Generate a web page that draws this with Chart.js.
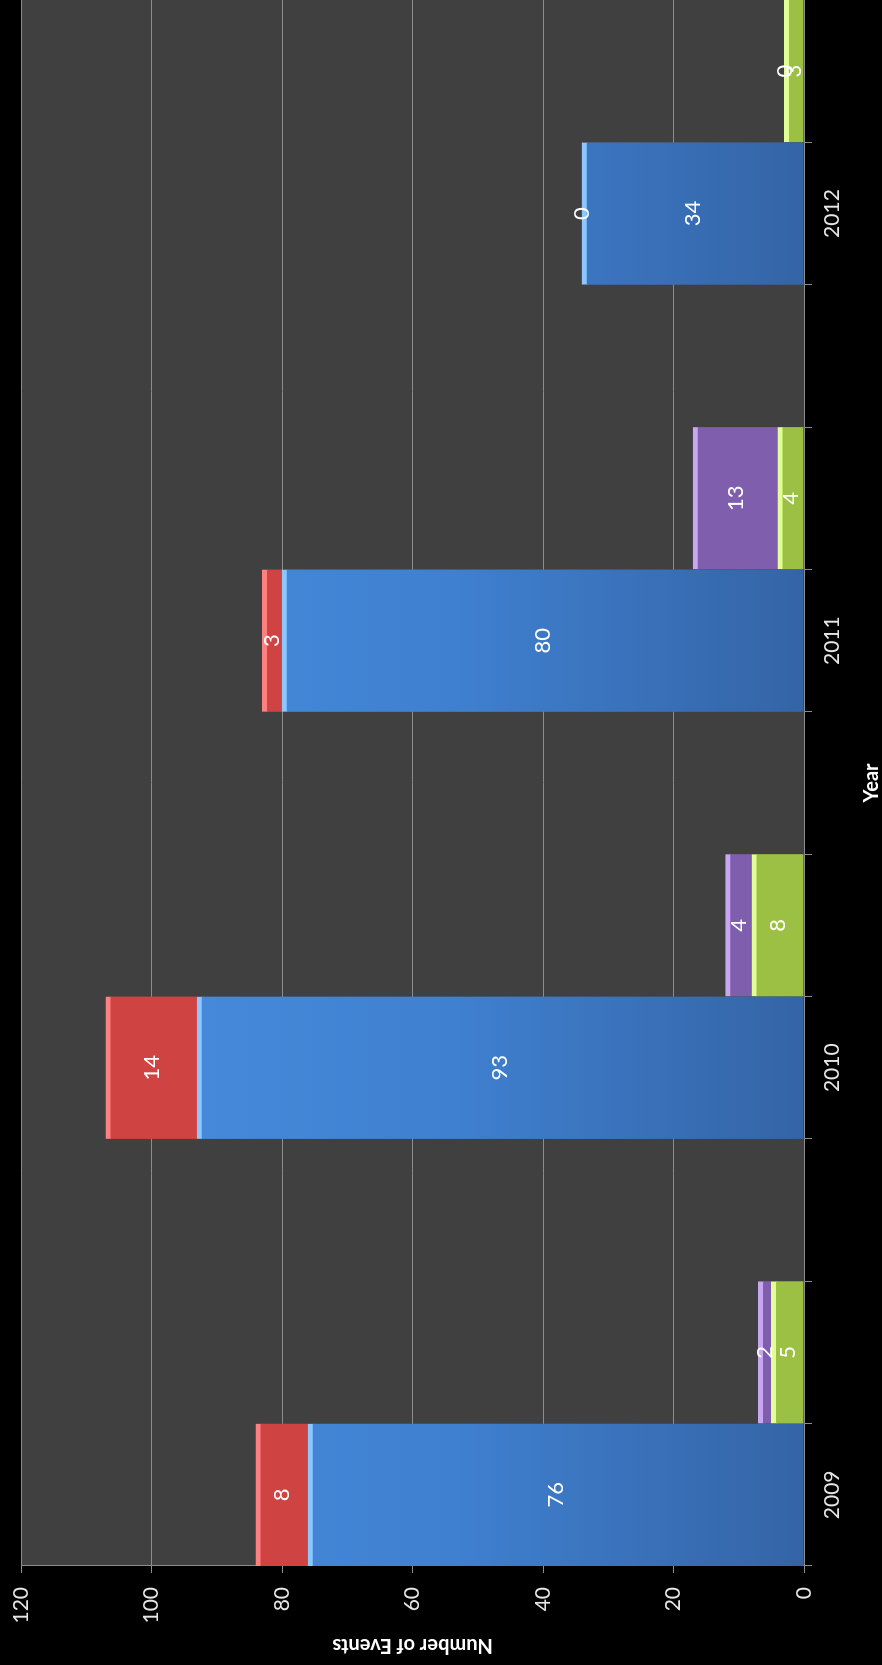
<!DOCTYPE html>
<html>
<head>
<meta charset="utf-8">
<script src="https://cdn.jsdelivr.net/npm/chart.js@4.4.0/dist/chart.umd.min.js"></script>
<style>
  html, body { margin: 0; padding: 0; background: #000; overflow: hidden; }
  #wrap { position: relative; width: 882px; height: 1665px; overflow: hidden; }
  /* the chart is drawn upright and turned a quarter turn left, like the picture */
  #chart { position: absolute; left: 0; top: 0; width: 1665px; height: 882px;
    transform-origin: 0 0; transform: translate(0, 1665px) rotate(-90deg); }
</style>
</head>
<body>
<div id="wrap"><canvas id="chart" width="1665" height="882"></canvas></div>
<script>
const years = ["2009", "2010", "2011", "2012"];
const blueValues = [76, 93, 80, 34];
const redValues = [8, 14, 3, 0];
const greenValues = [5, 8, 4, 3];
const purpleValues = [2, 4, 13, 0];
const valueTicks = [0, 20, 40, 60, 80, 100, 120];

// each year: blue/red column, green/purple column, then an empty slot
const slotLabels = [];
const blueData = [], redData = [], greenData = [], purpleData = [];
years.forEach((y, i) => {
  slotLabels.push(y, "");
  blueData.push(blueValues[i], null);
  redData.push(redValues[i], null);
  greenData.push(null, greenValues[i]);
  purpleData.push(null, purpleValues[i]);
  if (i < years.length - 1) {
    slotLabels.push("");
    blueData.push(null);
    redData.push(null);
    greenData.push(null);
    purpleData.push(null);
  }
});

function areaGradient(c0, c1, c2) {
  return (ctx) => {
    const a = ctx.chart.chartArea;
    if (!a) return c1;
    const g = ctx.chart.ctx.createLinearGradient(0, a.top, 0, a.bottom);
    g.addColorStop(0, c0);
    g.addColorStop(0.55, c1);
    g.addColorStop(1, c2);
    return g;
  };
}

const backdrop = {
  id: "backdrop",
  beforeDraw(chart) {
    const { ctx, chartArea: a } = chart;
    ctx.save();
    ctx.fillStyle = "#000";
    ctx.fillRect(0, 0, chart.width, chart.height);
    ctx.fillStyle = "#404040";
    ctx.fillRect(a.left, a.top, a.right - a.left, a.bottom - a.top);
    ctx.restore();
  }
};

const valueLabels = {
  id: "valueLabels",
  afterDatasetsDraw(chart) {
    const ctx = chart.ctx;
    ctx.save();
    ctx.font = "22px Lato";
    ctx.fillStyle = "#ffffff";
    ctx.textAlign = "center";
    ctx.textBaseline = "middle";
    chart.data.datasets.forEach((ds, di) => {
      chart.getDatasetMeta(di).data.forEach((bar, i) => {
        if (ds.data[i] === null) return;
        ctx.fillText(String(ds.data[i]), bar.x, (bar.y + bar.base) / 2);
      });
    });
    ctx.restore();
  }
};

const topEdge = { top: 5, right: 0, bottom: 0, left: 0 };
const axisGray = "#8c8c8c";

new Chart(document.getElementById("chart"), {
  type: "bar",
  data: {
    labels: slotLabels,
    datasets: [
      { data: blueData, backgroundColor: areaGradient("#4a8fe0", "#3f80d0", "#3464a6"),
        borderColor: "#8cc8ff", borderWidth: topEdge },
      { data: redData, backgroundColor: "#cf4343", borderColor: "#ff8080", borderWidth: topEdge },
      { data: greenData, backgroundColor: "#9cc044", borderColor: "#e2ff96", borderWidth: topEdge },
      { data: purpleData, backgroundColor: "#7f5eae", borderColor: "#c9a6f2", borderWidth: topEdge }
    ]
  },
  options: {
    responsive: false,
    animation: false,
    devicePixelRatio: 1,
    layout: { padding: { top: 21, left: 0, right: 0, bottom: 0 } },
    datasets: { bar: { categoryPercentage: 1, barPercentage: 1, borderSkipped: false } },
    plugins: { legend: { display: false }, tooltip: { enabled: false } },
    scales: {
      x: {
        stacked: true,
        offset: true,
        grid: { display: true, drawOnChartArea: false, offset: true, tickLength: 8, color: axisGray },
        border: { display: true, color: axisGray },
        ticks: { color: "#e6e6e6", font: { family: "Lato", size: 21 }, padding: 8,
          autoSkip: false, maxRotation: 0 },
        title: { display: true, text: "Year", color: "#ffffff",
          font: { family: "Lato", size: 20, weight: "bold", lineHeight: 1 }, padding: 0 },
        afterFit(scale) { scale.height = 78; }
      },
      y: {
        stacked: true,
        min: 0,
        max: 120,
        afterBuildTicks(scale) { scale.ticks = valueTicks.map((v) => ({ value: v })); },
        grid: { color: axisGray, tickLength: 7 },
        border: { display: true, color: axisGray },
        ticks: { color: "#e6e6e6", font: { family: "Lato", size: 21 }, padding: 14 },
        title: { display: true, text: "Number of Events", color: "#ffffff",
          font: { family: "Lato", size: 20, weight: "bold", lineHeight: 1 },
          padding: { top: 10, bottom: 0 } },
        afterFit(scale) {
          scale.width = 99;
          scale.paddingTop = 0;
          scale.paddingBottom = 0;
        }
      }
    }
  },
  plugins: [backdrop, valueLabels]
});
</script>
</body>
</html>
